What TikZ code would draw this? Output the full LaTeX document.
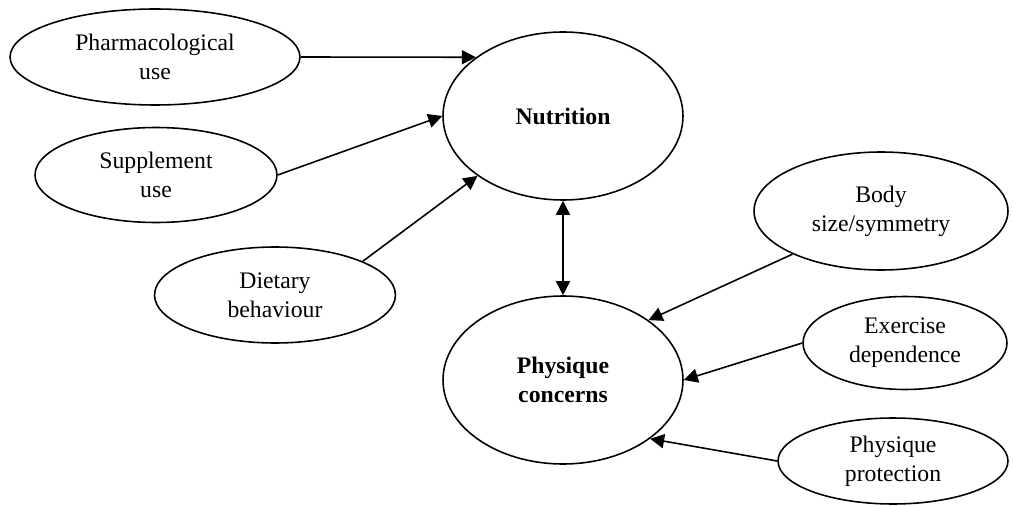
\documentclass[tikz,border=0pt]{standalone}
\usepackage{fontspec}
\setmainfont{Liberation Serif}
\usetikzlibrary{shapes.geometric,arrows.meta}
\begin{document}
\begin{tikzpicture}[x=0.02cm,y=-0.02cm,
  oval/.style={draw,ellipse,line width=0.9pt,inner sep=0pt,align=center,
    font=\fontsize{13.5}{16.5}\selectfont},
  bigoval/.style={oval,font=\fontsize{13.5}{16.5}\selectfont\bfseries},
  arr/.style={line width=0.9pt,-{Triangle[length=8pt,width=8pt]}},
  darr/.style={line width=0.9pt,{Triangle[length=8pt,width=8pt]}-{Triangle[length=8pt,width=8pt]}}]
\useasboundingbox (0,0) rectangle (1013,506);
\node[oval,minimum width=5.8cm,minimum height=1.92cm] (pharm) at (155,57) {Pharmacological\\use};
\node[oval,minimum width=4.84cm,minimum height=1.9cm] (supp) at (156,175) {Supplement\\use};
\node[oval,minimum width=4.82cm,minimum height=1.92cm] (diet) at (275,295) {Dietary\\behaviour};
\node[bigoval,minimum width=4.8cm,minimum height=3.36cm] (nut) at (563,116) {Nutrition};
\node[bigoval,minimum width=4.8cm,minimum height=3.36cm] (pc) at (563,380) {Physique\\concerns};
\node[oval,minimum width=5.08cm,minimum height=2.36cm] (body) at (881,211) {Body\\size/symmetry};
\node[oval,minimum width=4.08cm,minimum height=1.86cm] (exer) at (905,343) {Exercise\\dependence};
\node[oval,minimum width=4.6cm,minimum height=1.72cm] (prot) at (893,461) {Physique\\protection};
\draw[arr] (pharm.east) -- (nut.146);
\draw[arr] (supp.east) -- (nut.180);
\draw[arr] (diet.21) -- (nut.215);
\draw[darr] (nut.south) -- (pc.north);
\draw[arr] (body.206) -- (pc.35);
\draw[arr] (exer.west) -- (pc.east);
\draw[arr] (prot.west) -- (pc.326);
\end{tikzpicture}
\end{document}
